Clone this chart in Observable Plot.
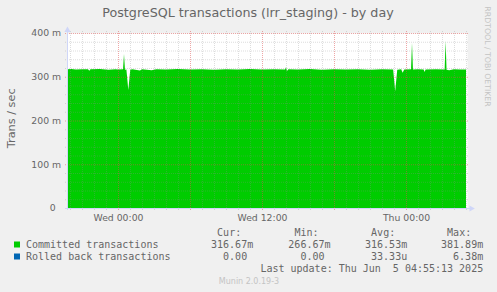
<!DOCTYPE html>
<html>
<head>
<meta charset="utf-8">
<script src="https://cdn.jsdelivr.net/npm/d3@7"></script>
<script src="https://cdn.jsdelivr.net/npm/@observablehq/plot@0.6"></script>
<style>
html, body { margin: 0; padding: 0; background: #f0f0f0; }
</style>
</head>
<body>
<div id="chart"></div>
<script>
// Time in hours relative to Wed 00:00 (5-minute samples, 12 px per hour)
const hours = [-4.25, -3.9, -3.5, -3.0, -2.5, -2.39, -2.3, -1.5, -0.8, -0.2, 0.0, 0.42, 0.5, 0.58, 0.7, 0.86, 1.02, 1.2, 1.83, 2.0, 2.8, 3.2, 4.0, 5.0, 6.0, 7.0, 8.0, 9.0, 10.0, 11.0, 12.0, 13.0, 13.92, 14.0, 14.08, 14.2, 15.0, 16.0, 17.0, 18.0, 19.0, 20.0, 21.0, 22.0, 22.93, 23.1, 23.27, 23.6, 23.72, 23.85, 24.42, 24.5, 24.58, 25.0, 25.47, 25.55, 25.63, 26.5, 27.22, 27.3, 27.38, 27.6, 28.0, 28.5, 29.0];
// Committed transactions, milli-transactions per second
const committed = [317, 317.5, 316.5, 317, 317, 314, 317, 317.5, 316, 317, 316.5, 317, 352, 316, 316.5, 270, 316, 317, 314.5, 317, 315, 317, 316.5, 317.5, 316.5, 317, 316, 317, 316.5, 317.5, 316.5, 317, 316.5, 322, 313, 317, 316.5, 317.5, 316, 317, 316.5, 317, 316, 317, 316.5, 266.67, 316, 317, 309, 316.5, 317, 377, 316.5, 317, 316.5, 311, 316.5, 317, 316.5, 381.89, 316, 315, 317, 316.5, 316.67];

const seriesNames = ["Committed transactions", "Rolled back transactions"];
const seriesColors = ["#00cc00", "#0066b3"];

const xDomain = [-4.25, 29.0833];
const xTicks = [0, 12, 24];
const xTickLabels = ["Wed 00:00", "Wed 12:00", "Thu 00:00"];
const yDomain = [0, 400];
const yTicks = [100, 200, 300, 400];

const colHeaders = ["Cur:", "Min:", "Avg:", "Max:"];
const committedStats = ["316.67m", "266.67m", "316.53m", "381.89m"];
const rolledBackStats = ["0.00", "0.00", "33.33u", "6.38m"];
const titleText = "PostgreSQL transactions (lrr_staging) - by day";
const yLabelText = "Trans / sec";
const lastUpdate = "Last update: Thu Jun  5 04:55:13 2025";
const watermark = "RRDTOOL / TOBI OETIKER";
const version = "Munin 2.0.19-3";

const data = hours.map((h, i) => ({h, v: committed[i]}));

const hourGrid = d3.range(Math.ceil(xDomain[0]), Math.floor(xDomain[1]) + 1);
const xMajor = hourGrid.filter(h => h % 6 === 0);
const xMinor = hourGrid.filter(h => h % 6 !== 0);
const yGrid = d3.range(20, 401, 20);
const yMajor = yGrid.filter(v => v % 100 === 0);
const yMinor = yGrid.filter(v => v % 100 !== 0);

const minorStyle = {stroke: "#8f8f8f", strokeOpacity: 0.3, strokeDasharray: "1,1"};
const majorStyle = {stroke: "#de4f4f", strokeOpacity: 0.5, strokeDasharray: "1,1"};
const axisColor = "#cfd6f8";

const svg = Plot.plot({
  width: 497,
  height: 292,
  marginTop: 33,
  marginBottom: 84,
  marginLeft: 67,
  marginRight: 30,
  style: {background: "#f0f0f0", fontFamily: "DejaVu Sans", fontSize: "9.3px", color: "#666666", overflow: "visible"},
  x: {domain: xDomain, label: null},
  y: {domain: yDomain, label: null},
  marks: [
    Plot.frame({fill: "#ffffff", stroke: "none"}),
    Plot.areaY(data, {x: "h", y: "v", fill: seriesColors[0]}),
    Plot.ruleY(yMinor, {...minorStyle, insetLeft: -2, insetRight: -2}),
    Plot.ruleX(xMinor, {...minorStyle, insetTop: -2, insetBottom: -2}),
    Plot.ruleY(yMajor, {...majorStyle, insetLeft: -2, insetRight: -2}),
    Plot.ruleX(xMajor, {...majorStyle, insetTop: -2, insetBottom: -2}),
    Plot.ruleY([yDomain[0]], {stroke: axisColor, insetLeft: -2, insetRight: -3}),
    Plot.ruleX([xDomain[0]], {stroke: axisColor, insetTop: -3, insetBottom: -2}),
    Plot.dot([[xDomain[0], yDomain[1]]], {x: d => d[0], y: d => d[1], symbol: "triangle", r: 2.3, fill: axisColor, stroke: "none", dy: -3.4}),
    Plot.dot([[xDomain[1], yDomain[0]]], {x: d => d[0], y: d => d[1], symbol: "triangle", r: 2.3, fill: axisColor, stroke: "none", dx: 3.8, rotate: 90}),
    Plot.axisY(yTicks, {tickFormat: d => `${d} m`, tickSize: 0, tickPadding: 6.4, fontSize: 9.3, label: null}),
    Plot.axisY([0], {tickFormat: d => `${d}`, tickSize: 0, tickPadding: 11.8, fontSize: 9.3, label: null}),
    Plot.axisX(xTicks, {tickFormat: d => xTickLabels[xTicks.indexOf(d)], tickSize: 0, tickPadding: 6, fontSize: 9.3, label: null})
  ]
});

const s = d3.select(svg);
const g = s.append("g").attr("fill", "#666666").attr("text-anchor", "start");

g.append("text")
  .attr("x", 248).attr("y", 17)
  .attr("text-anchor", "middle")
  .attr("font-family", "DejaVu Sans").attr("font-size", 12.7)
  .text(titleText);

g.append("text")
  .attr("transform", "translate(14.5,118.3) rotate(-90)")
  .attr("text-anchor", "middle")
  .attr("font-family", "DejaVu Sans").attr("font-size", 11.3)
  .text(yLabelText);

g.append("text")
  .attr("transform", "translate(485,56.5) rotate(90)")
  .attr("text-anchor", "middle")
  .attr("font-family", "DejaVu Sans").attr("font-size", 7.8)
  .attr("fill", "#c4c4c4")
  .text(watermark);

g.append("text")
  .attr("x", 249).attr("y", 284)
  .attr("text-anchor", "middle")
  .attr("font-family", "DejaVu Sans").attr("font-size", 8)
  .attr("fill", "#c4c4c4")
  .text(version);

const mono = {family: "DejaVu Sans Mono", size: 10};
const rowBase = [248, 260];
const colRight = [253.2, 330.5, 407.2, 483.2];

seriesNames.forEach((name, i) => {
  g.append("rect")
    .attr("x", 14).attr("y", rowBase[i] - 6.5)
    .attr("width", 6).attr("height", 6)
    .attr("fill", seriesColors[i]);
  g.append("text")
    .attr("x", 26).attr("y", rowBase[i])
    .attr("text-anchor", "start")
    .attr("font-family", mono.family).attr("font-size", mono.size)
    .text(name);
});

colHeaders.forEach((h, j) => {
  g.append("text")
    .attr("x", colRight[j] - 12).attr("y", 236)
    .attr("text-anchor", "end")
    .attr("font-family", mono.family).attr("font-size", mono.size)
    .text(h);
});

[committedStats, rolledBackStats].forEach((row, i) => {
  row.forEach((v, j) => {
    const txt = /[a-zA-Z]$/.test(v) ? v : v + "\u00a0";
    g.append("text")
      .attr("x", colRight[j]).attr("y", rowBase[i])
      .attr("text-anchor", "end")
      .attr("font-family", mono.family).attr("font-size", mono.size)
      .text(txt);
  });
});

g.append("text")
  .attr("x", colRight[3]).attr("y", 272)
  .attr("text-anchor", "end")
  .attr("xml:space", "preserve")
  .style("white-space", "pre")
  .attr("font-family", mono.family).attr("font-size", mono.size)
  .text(lastUpdate);

document.getElementById("chart").appendChild(svg);
</script>
</body>
</html>
